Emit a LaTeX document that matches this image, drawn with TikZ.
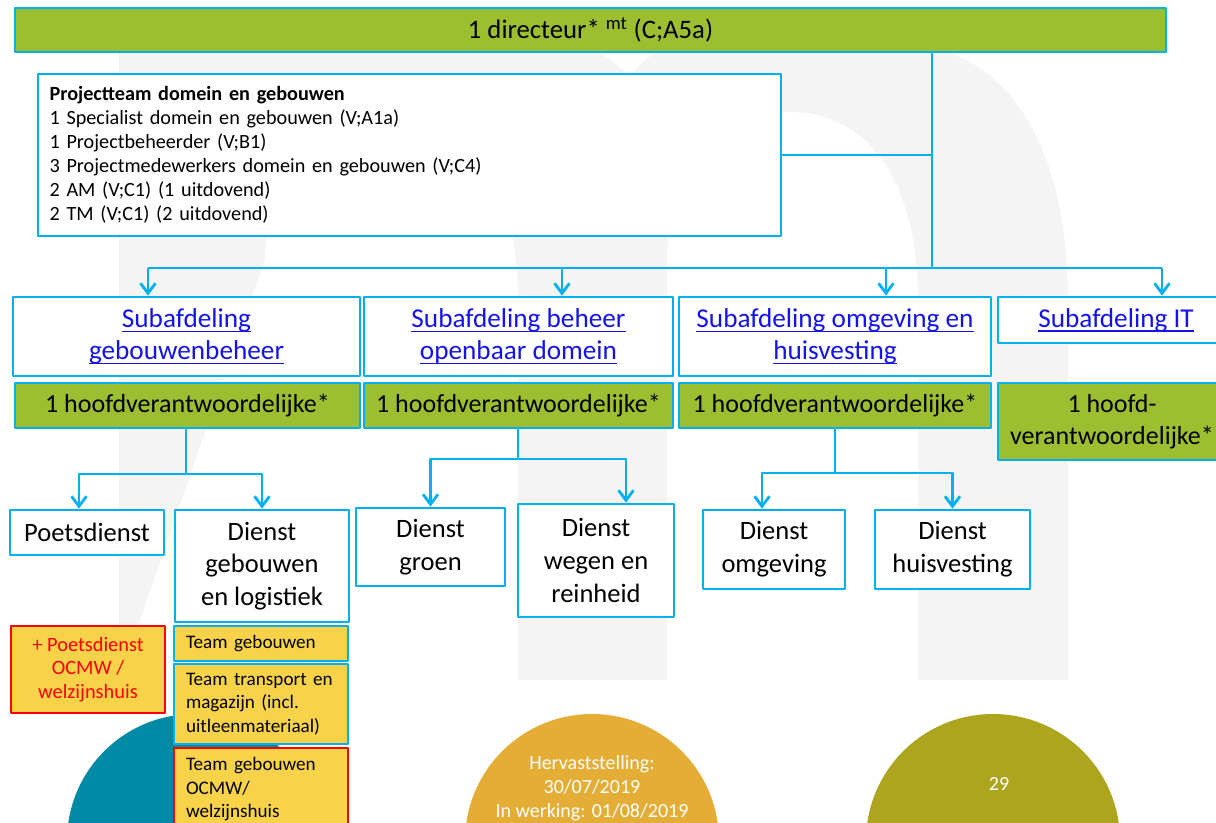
\documentclass[tikz,border=0pt]{standalone}
\usepackage{fontspec}
\setmainfont{Carlito}
\usetikzlibrary{arrows.meta}
\definecolor{lineblue}{RGB}{0,176,240}
\definecolor{boxgreen}{RGB}{158,190,50}
\definecolor{teamyellow}{RGB}{248,211,74}
\definecolor{linkblue}{RGB}{20,20,232}
\definecolor{bggray}{RGB}{244,244,244}
\definecolor{dotteal}{RGB}{0,138,166}
\definecolor{dotorange}{RGB}{228,174,54}
\definecolor{dotolive}{RGB}{173,165,30}
\newcommand\linkul[1]{\leavevmode\setbox0\hbox{#1}\rlap{\rule[-2.6pt]{\wd0}{0.7pt}}\box0}
\begin{document}
\begin{tikzpicture}[x=0.02cm,y=-0.02cm,line join=round,
 area/.style args={#1/#2/#3/#4}{at={({(#1+#3)/2},{(#2+#4)/2})},
  minimum width={(#3-#1)*0.02cm},minimum height={(#4-#2)*0.02cm}},
 box/.style={draw=lineblue,line width=1.6pt,inner sep=0pt,align=center},
 sub/.style={box,fill=white,text=linkblue,font=\fontsize{15.5}{18}\selectfont},
 head/.style={box,fill=boxgreen,font=\fontsize{14.8}{18}\selectfont},
 dienst/.style={box,fill=white,font=\fontsize{15.1}{18.7}\selectfont},
 team/.style={box,fill=teamyellow,text width=3cm,align=left,font=\fontsize{10.9}{13.2}\selectfont},
 conn/.style={draw=lineblue,line width=1.6pt},
 arr/.style={conn,-{Straight Barb[length=0.2cm,width=0.3cm]}},
 dottext/.style={text=white,align=center,font=\fontsize{11.4}{13.6}\selectfont}]
 \useasboundingbox (0,0) rectangle (1216,822);
 \clip (0,0) rectangle (1216,822);
 \fill[white] (0,0) rectangle (1216,822);
 \fill[bggray] (119,680) -- (119,45) -- (585,45) .. controls (605,55) and (620,65) .. (630,78)
  .. controls (640,62) and (655,50) .. (675,45) -- (900,45) .. controls (1010,45) and (1068,150) .. (1068,300)
  -- (1068,680) -- (918,680) -- (918,300) .. controls (918,170) and (860,112) .. (790,112)
  .. controls (720,112) and (667,170) .. (667,260) -- (667,680) -- (518,680) -- (518,300)
  .. controls (518,170) and (460,112) .. (390,112) .. controls (320,112) and (265,170) .. (265,260) -- cycle;
 \fill[dotteal] (194,841) circle (127);
 \fill[dotorange] (592,841) circle (127);
 \fill[dotolive] (993,841) circle (127);
 \node[dottext] (date) at (592,788) {Hervaststelling:\\30/07/2019\\In werking: 01/08/2019};
 \node[dottext] (page) at (999,784) {29};
 \node[head,area=15/8/1166/52,font=\fontsize{15.2}{17}\selectfont] (dir) {1 directeur* \textsuperscript{mt} (C;A5a)};
 \node[box,fill=white,area=38/74/781/236,text width=14.4cm,align=left,font=\fontsize{11.5}{13.7}\selectfont] (pt)
  {\textbf{Projectteam domein en gebouwen}\\1 Specialist domein en gebouwen (V;A1a)\\1 Projectbeheerder (V;B1)\\
   3 Projectmedewerkers domein en gebouwen (V;C4)\\2 AM (V;C1) (1 uitdovend)\\2 TM (V;C1) (2 uitdovend)};
 \node[sub,area=13/297/360/376] (s1) {\linkul{Subafdeling}\\\linkul{gebouwenbeheer}};
 \node[sub,area=364/297/673/376] (s2) {\linkul{Subafdeling beheer}\\\linkul{openbaar domein}};
 \node[sub,area=679/297/991/376] (s3) {\linkul{Subafdeling omgeving en}\\\linkul{huisvesting}};
 \node[sub,area=998/297/1234/343] (s4) {\linkul{Subafdeling IT}};
 \node[head,area=15/383/360/428] (h1) {1 hoofdverantwoordelijke*};
 \node[head,area=364/383/673/428] (h2) {1 hoofdverantwoordelijke*};
 \node[head,area=679/383/991/428] (h3) {1 hoofdverantwoordelijke*};
 \node[head,area=998/383/1226/460] (h4) {1 hoofd-\\verantwoordelijke*};
 \coordinate (top) at (932,268);
 \draw[conn] (dir.south -| top) -- (top);
 \draw[conn] (pt.east) -- (pt.east -| top);
 \coordinate (a1) at (148,268);\coordinate (a2) at (562,268);
 \coordinate (a3) at (886,268);\coordinate (a4) at (1162,268);
 \draw[conn] (a1) -- (a4);
 \foreach \i in {1,...,4}
  \draw[arr] (a\i) -- (a\i |- s\i.north);
 \node[dienst,area=10/510/164/555] (poets) {Poetsdienst};
 \node[dienst,area=175/510/349/622] (dgl) {Dienst\\gebouwen\\en logistiek};
 \node[dienst,area=356/508/505/586] (groen) {Dienst\\groen};
 \node[dienst,area=518/504/674/617] (wegen) {Dienst\\wegen en\\reinheid};
 \node[dienst,area=703/510/845/589] (omg) {Dienst\\omgeving};
 \node[dienst,area=875/510/1030/589] (huis) {Dienst\\huisvesting};
 \coordinate (c1) at (186,474);\coordinate (c2) at (518,459);\coordinate (c3) at (835,473);
 \draw[conn] (h1.south -| c1) -- (c1);
 \draw[arr] (c1) -| ([xshift=-0.16cm]poets.north);
 \draw[arr] (c1) -| (dgl.north);
 \draw[conn] (h2.south -| c2) -- (c2);
 \draw[arr] (c2) -| (groen.north);
 \draw[arr] (c2) -| ([xshift=0.6cm]wegen.north);
 \draw[conn] (h3.south -| c3) -- (c3);
 \draw[arr] (c3) -| ([xshift=-0.24cm]omg.north);
 \draw[arr] (c3) -| (huis.north);
 \node[box,draw=red,fill=teamyellow,text=red,area=11/626/165/713,font=\fontsize{11.6}{13.3}\selectfont] (extra)
  {+ Poetsdienst\\OCMW /\\welzijnshuis};
 \node[team,area=174/626/348/661] (t1) {Team gebouwen};
 \node[team,area=174/664/348/744] (t2) {Team transport en\\magazijn (incl.\\uitleenmateriaal)};
 \node[team,draw=red,area=174/748/348/830] (t3) {Team gebouwen\\OCMW/\\welzijnshuis};
\end{tikzpicture}
\end{document}
